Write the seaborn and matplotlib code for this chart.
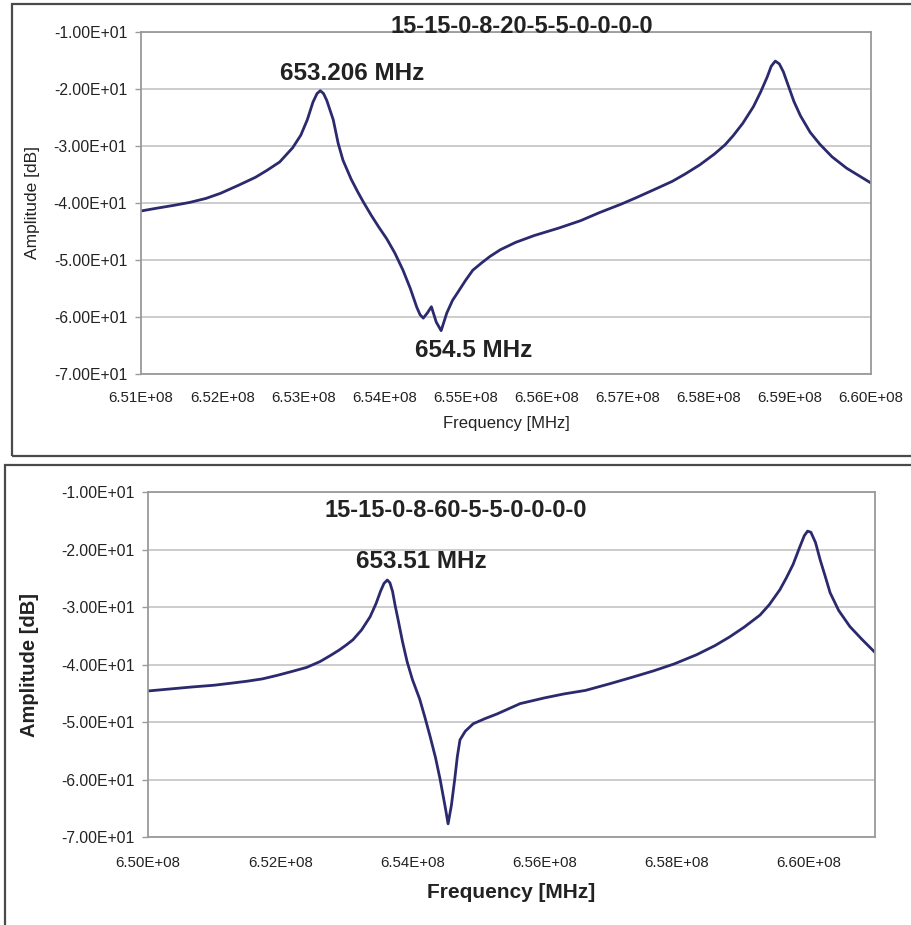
import numpy as np
import pandas as pd
import matplotlib
matplotlib.use('Agg')
import matplotlib.pyplot as plt
import matplotlib.ticker as mticker
from matplotlib.patches import Rectangle
import seaborn as sns

# top panel: 15-15-0-8-20-5-5-0-0-0-0
top_freq_mhz = [651.00, 651.20, 651.41, 651.60, 651.80, 651.98, 652.20, 652.41, 652.55,
                652.71, 652.87, 652.97, 653.05, 653.12, 653.17, 653.21, 653.25, 653.29,
                653.37, 653.43, 653.49, 653.59, 653.67, 653.74, 653.84, 653.93, 654.03,
                654.13, 654.23, 654.32, 654.40, 654.44, 654.48, 654.53, 654.58, 654.64,
                654.70, 654.77, 654.84, 654.90, 655.00, 655.09, 655.20, 655.30, 655.43,
                655.62, 655.85, 656.15, 656.42, 656.65, 656.92, 657.10, 657.35, 657.55,
                657.71, 657.89, 658.07, 658.20, 658.30, 658.42, 658.55, 658.64, 658.72,
                658.77, 658.82, 658.87, 658.92, 658.97, 659.05, 659.13, 659.25, 659.37,
                659.52, 659.70, 659.85, 660.00]
top_amp_db = [-41.4, -40.9, -40.4, -39.9, -39.2, -38.3, -36.9, -35.5, -34.3,
              -32.8, -30.3, -28.1, -25.4, -22.3, -20.8, -20.3, -20.8, -22.0,
              -25.4, -29.5, -32.5, -35.8, -38.0, -39.8, -42.2, -44.2, -46.3,
              -48.8, -51.8, -55.0, -58.3, -59.6, -60.2, -59.3, -58.2, -60.9,
              -62.4, -59.3, -57.1, -55.8, -53.6, -51.8, -50.5, -49.4, -48.2,
              -46.9, -45.7, -44.4, -43.1, -41.7, -40.2, -39.1, -37.5, -36.2,
              -34.9, -33.3, -31.4, -29.8, -28.2, -26.0, -23.1, -20.5, -17.9,
              -16.0, -15.1, -15.6, -17.0, -19.0, -22.2, -24.7, -27.6, -29.7,
              -31.9, -33.9, -35.2, -36.5]

# bottom panel: 15-15-0-8-60-5-5-0-0-0-0
bot_freq_mhz = [650.00, 650.67, 651.00, 651.29, 651.50, 651.73, 651.95, 652.18, 652.40,
                652.60, 652.75, 652.89, 653.00, 653.10, 653.23, 653.36, 653.45, 653.52,
                653.57, 653.62, 653.66, 653.70, 653.74, 653.78, 653.85, 653.92, 654.00,
                654.11, 654.19, 654.27, 654.35, 654.42, 654.50, 654.54, 654.59, 654.64,
                654.68, 654.72, 654.80, 654.92, 655.10, 655.28, 655.63, 656.00, 656.30,
                656.62, 657.00, 657.33, 657.65, 657.96, 658.30, 658.58, 658.80, 659.02,
                659.26, 659.40, 659.56, 659.66, 659.76, 659.86, 659.93, 659.98, 660.03,
                660.10, 660.17, 660.25, 660.32, 660.45, 660.62, 660.80, 661.00]
bot_amp_db = [-44.6, -43.9, -43.6, -43.2, -42.9, -42.5, -41.9, -41.2, -40.5,
              -39.5, -38.5, -37.5, -36.6, -35.7, -34.0, -31.7, -29.4, -27.2,
              -25.9, -25.3, -25.8, -27.3, -29.8, -32.0, -36.0, -39.5, -42.6,
              -46.0, -49.2, -52.6, -56.2, -60.0, -65.0, -67.7, -64.5, -60.0,
              -56.0, -53.1, -51.6, -50.3, -49.4, -48.6, -46.8, -45.8, -45.1,
              -44.5, -43.3, -42.2, -41.1, -39.9, -38.3, -36.7, -35.2, -33.5,
              -31.4, -29.6, -27.0, -24.9, -22.6, -19.6, -17.6, -16.8, -17.0,
              -18.8, -21.8, -24.8, -27.5, -30.6, -33.4, -35.6, -37.9]

top_df = pd.DataFrame({'freq': np.array(top_freq_mhz) * 1e6, 'amp': top_amp_db})
bot_df = pd.DataFrame({'freq': np.array(bot_freq_mhz) * 1e6, 'amp': bot_amp_db})

sns.set_style('white')
plt.rcParams['font.family'] = ['Liberation Sans', 'DejaVu Sans']

line_color = '#2b2a6e'
grid_color = '#c8c8c8'
spine_color = '#9a9a9a'
text_color = '#222222'
sci = mticker.FuncFormatter(lambda v, p: '%.2E' % v)

fig = plt.figure(figsize=(9.11, 9.25), dpi=100)
ax1 = fig.add_axes([0.1548, 0.5957, 0.8013, 0.3697])
ax2 = fig.add_axes([0.1625, 0.0951, 0.7980, 0.3730])


def style_axis(ax, xstep, xpad, ypad):
    ax.set_ylim(-70, -10)
    ax.yaxis.set_major_locator(mticker.MultipleLocator(10))
    ax.xaxis.set_major_locator(mticker.MultipleLocator(xstep))
    ax.xaxis.set_major_formatter(sci)
    ax.yaxis.set_major_formatter(sci)
    ax.grid(axis='y', color=grid_color, linewidth=1.3)
    ax.grid(axis='x', visible=False)
    for s in ax.spines.values():
        s.set_color(spine_color)
        s.set_linewidth(1.3)
        s.set_visible(True)
    ax.tick_params(axis='y', left=True, length=4, width=1, color=spine_color,
                   direction='out', pad=ypad, labelsize=11.3, labelcolor=text_color)
    ax.tick_params(axis='x', bottom=False, length=0, pad=xpad, labelsize=10.8,
                   labelcolor=text_color)


sns.lineplot(data=top_df, x='freq', y='amp', ax=ax1, color=line_color,
             linewidth=2.0, estimator=None)
ax1.set_xlim(651e6, 660e6)
style_axis(ax1, 1e6, 12.5, 6.0)
ax1.set_xlabel('Frequency [MHz]', fontsize=12, color=text_color, va='center')
ax1.set_ylabel('Amplitude [dB]', fontsize=12.5, color=text_color, va='center')
ax1.xaxis.set_label_coords(0.5, -0.146)
ax1.yaxis.set_label_coords(-0.148, 0.5)
ax1.text(655.69e6, -10.1, '15-15-0-8-20-5-5-0-0-0-0', fontsize=17, fontweight='bold',
         ha='center', va='baseline', color=text_color, clip_on=False)
ax1.text(653.60e6, -17.2, '653.206 MHz', fontsize=17.5, fontweight='bold',
         ha='center', va='center', color=text_color)
ax1.text(655.10e6, -65.8, '654.5 MHz', fontsize=17.5, fontweight='bold',
         ha='center', va='center', color=text_color)

sns.lineplot(data=bot_df, x='freq', y='amp', ax=ax2, color=line_color,
             linewidth=2.0, estimator=None)
ax2.set_xlim(650e6, 661.0e6)
style_axis(ax2, 2e6, 14, 5.5)
ax2.set_xlabel('Frequency [MHz]', fontsize=15, fontweight='bold', color=text_color, va='center')
ax2.set_ylabel('Amplitude [dB]', fontsize=14.5, fontweight='bold', color=text_color, va='center')
ax2.xaxis.set_label_coords(0.5, -0.162)
ax2.yaxis.set_label_coords(-0.163, 0.5)
ax2.text(654.66e6, -13.3, '15-15-0-8-60-5-5-0-0-0-0', fontsize=17, fontweight='bold',
         ha='center', va='center', color=text_color)
ax2.text(654.13e6, -22.1, '653.51 MHz', fontsize=17.5, fontweight='bold',
         ha='center', va='center', color=text_color)

# panel frames
fig.patches.append(Rectangle((0.0132, 0.507), 1.05, 0.4887, transform=fig.transFigure,
                             fill=False, edgecolor='#4a4a4a', linewidth=1.6, zorder=0))
fig.patches.append(Rectangle((0.0055, -0.05), 1.05, 0.5473, transform=fig.transFigure,
                             fill=False, edgecolor='#4a4a4a', linewidth=1.6, zorder=0))

fig.savefig('out.png', dpi=100)
